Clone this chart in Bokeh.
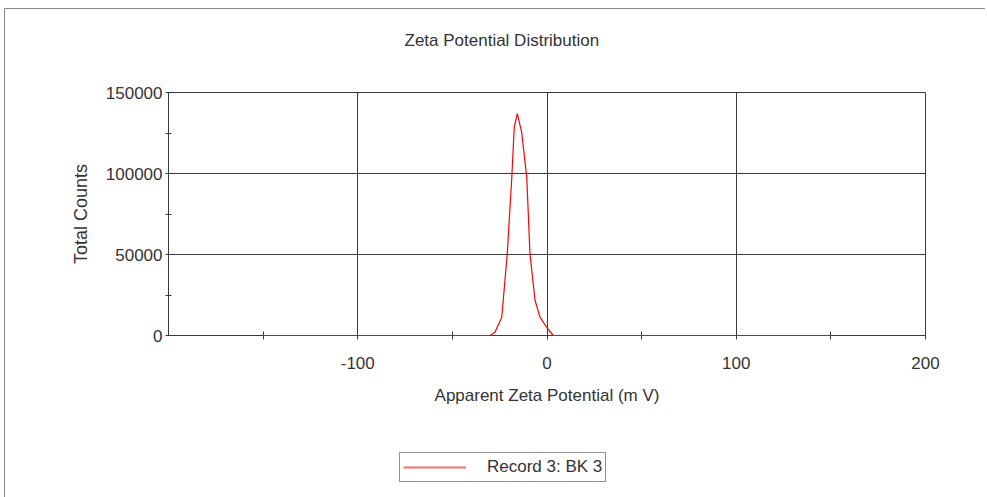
from bokeh.plotting import figure
from bokeh.layouts import column
from bokeh.models import FixedTicker, Legend, LegendItem, Title, ColumnDataSource
from bokeh.embed import file_html
from bokeh.resources import INLINE

# Data
zeta_mv = [-150, -30.1, -27.5, -23.9, -21.0, -18.6, -17.3, -15.7, -13.4, -10.7, -9.0, -6.3, -3.7, -0.2, 3.3, 150]
counts = [0, 0, 2000, 11300, 50400, 97700, 128600, 136900, 125500, 97700, 50400, 21600, 11300, 5100, 0, 0]

x_ticks = [-150, -100, -50, 0, 50, 100, 150, 200]
x_tick_labels = {-150: "", -100: "-100", -50: "", 0: "0", 50: "", 100: "100", 150: "", 200: "200"}
y_ticks = [0, 25000, 50000, 75000, 100000, 125000, 150000]
y_tick_labels = {0: "0", 25000: "", 50000: "50000", 75000: "", 100000: "100000", 125000: "", 150000: "150000"}

title_text = "Zeta Potential Distribution"
x_label = "Apparent Zeta Potential (m V)"
y_label = "Total Counts"
series_name = "Record 3: BK 3"

FONT = "Liberation Sans"
TXT = "#333333"
GRID = "#3a3a3a"
FS = "17px"

src = ColumnDataSource(dict(x=zeta_mv, y=counts))

p = figure(
    frame_width=757, frame_height=243,
    min_border_left=168, min_border_right=62, min_border_top=92, min_border_bottom=105,
    x_range=(-200, 200), y_range=(0, 150000),
    output_backend="svg", toolbar_location=None, title=None,
    background_fill_color="white", border_fill_color=None,
)

r = p.line("x", "y", source=src, line_color="#ff0000", line_width=1.2)
r.level = "overlay"

# grid
for g in (p.xgrid, p.ygrid):
    g.grid_line_color = GRID
    g.grid_line_width = 1
p.xgrid.ticker = FixedTicker(ticks=[-100, 0, 100])
p.ygrid.ticker = FixedTicker(ticks=[50000, 100000])
p.outline_line_color = GRID
p.outline_line_width = 1

# axes
xa = p.xaxis[0]
xa.ticker = FixedTicker(ticks=x_ticks)
xa.major_label_overrides = x_tick_labels
xa.axis_label = x_label
ya = p.yaxis[0]
ya.ticker = FixedTicker(ticks=y_ticks)
ya.major_label_overrides = y_tick_labels
ya.axis_label = y_label
for a in (xa, ya):
    a.axis_line_color = GRID
    a.major_tick_line_color = GRID
    a.minor_tick_line_color = None
    a.major_tick_in = 3
    a.major_tick_out = 3
    a.major_label_text_font = FONT
    a.major_label_text_font_size = FS
    a.major_label_text_color = TXT
    a.axis_label_text_font = FONT
    a.axis_label_text_font_size = FS
    a.axis_label_text_font_style = "normal"
    a.axis_label_text_color = TXT
ya.axis_label_text_font_size = "18px"
xa.major_tick_in = 4
xa.major_tick_out = 4
xa.major_label_standoff = 17
xa.axis_label_standoff = 14
ya.major_label_standoff = 3
ya.axis_label_standoff = 12

# title: a spacer keeps it away from the frame
spacer_top = Title(text=" ", text_font_size="36px", standoff=0)
p.add_layout(spacer_top, "above")
t = Title(text=title_text, align="left", offset=236, text_font=FONT,
          text_font_size=FS, text_font_style="normal", text_color=TXT, standoff=0)
p.add_layout(t, "above")

# legend strip below the chart
lg = figure(width=987, height=57, x_range=(-200, 200), y_range=(1e6, 2e6),
            min_border=0, x_axis_location=None, y_axis_location=None,
            output_backend="svg", toolbar_location=None, title=None,
            background_fill_color=None, border_fill_color=None)
lg.grid.visible = False
lg.outline_line_color = None
lr = lg.line("x", "y", source=src, line_color="#ff6a6a", line_width=2.2)
legend = Legend(items=[LegendItem(label=series_name, renderers=[lr])],
                location=(231, 15), orientation="horizontal",
                glyph_width=63, glyph_height=22, label_standoff=21,
                padding=3, margin=0, spacing=0,
                border_line_color="#222222", border_line_width=1.5,
                label_text_font=FONT, label_text_font_size=FS,
                label_text_color=TXT, background_fill_color="white")
lg.add_layout(legend)

page = column(p, lg, spacing=0)
page.styles = {
    "background-color": "white",
    "background-image": "linear-gradient(#8a8a8a, #8a8a8a), linear-gradient(#8a8a8a, #8a8a8a)",
    "background-size": "981px 1px, 1px 489px",
    "background-position": "4px 8px, 4px 8px",
    "background-repeat": "no-repeat",
}

open("out.html", "w").write(file_html(page, INLINE))
